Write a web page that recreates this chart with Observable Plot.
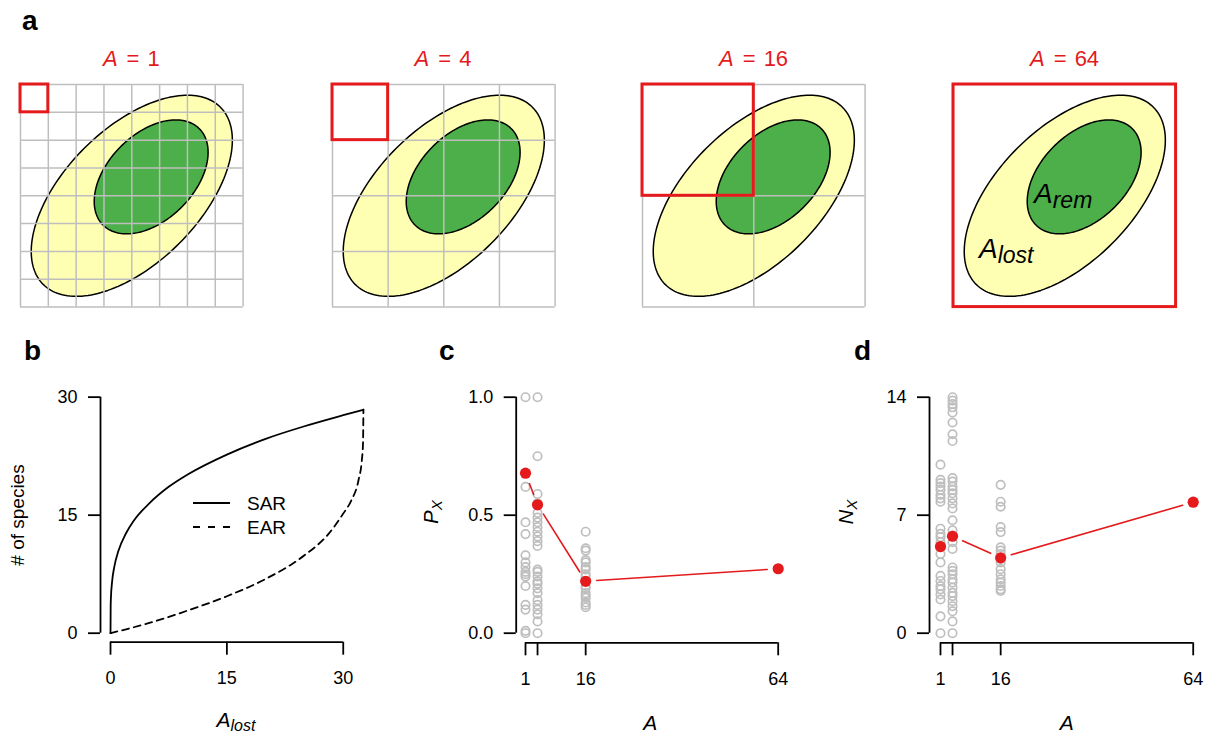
<!DOCTYPE html>
<html><head><meta charset="utf-8">
<script src="https://cdn.jsdelivr.net/npm/d3@7"></script>
<script src="https://cdn.jsdelivr.net/npm/@observablehq/plot@0.6"></script>
<style>
html,body{margin:0;padding:0;background:#fff;}
#page{position:relative;width:1211px;height:735px;overflow:hidden;background:#fff;font-family:"Liberation Sans",Arial,Helvetica,sans-serif;}
#page svg{position:absolute;overflow:visible;}
</style></head><body><div id="page"></div>
<script>
// ---------------- data ----------------
// panel a
const gridCells = [8, 4, 2, 1];          // cells per side of the grid
const sampleArea = [1, 4, 16, 64];       // A of the sampling square
const ellipseName = ["lost", "rem"];
const ellipseCx = [0.500, 0.587];
const ellipseCy = [0.500, 0.415];        // from the top of the square
const ellipseSemiMajor = [0.563, 0.306];
const ellipseSemiMinor = [0.302, 0.193];
const ellipseTilt = [45, 45];            // degrees
const ellipseFill = ["#ffffb3", "#4daf4a"];

// panel b
const sarArea = [0, 0.02, 0.05, 0.2, 0.5, 1, 2, 3, 5, 7.5, 10, 15, 20, 25, 30, 32.6];
const sarSpecies = [0, 3.4, 4.4, 6.5, 8.5, 10.4, 12.7, 14.3, 16.5, 18.6, 20.2, 22.7, 24.7, 26.3, 27.7, 28.4];
const earArea = [0, 2, 5, 10, 15, 20, 25, 28, 30, 31, 32, 32.4, 32.55, 32.6];
const earSpecies = [0, 0.5, 1.3, 2.9, 4.7, 6.9, 9.9, 12.5, 15.2, 16.8, 19.6, 22.0, 24.2, 28.4];
const bTicks = [0, 15, 30];

// panel c  (P_X)
const px1 = [1.0, 0.62, 0.47, 0.42, 0.33, 0.30, 0.28, 0.26, 0.25, 0.24, 0.20, 0.12, 0.10, 0.01, 0.0];
const px4 = [1.0, 0.75, 0.59, 0.55, 0.51, 0.49, 0.47, 0.45, 0.43, 0.41, 0.39, 0.37, 0.27, 0.26, 0.24, 0.22, 0.21, 0.19, 0.17, 0.14, 0.12, 0.10, 0.08, 0.05, 0.0];
const px16 = [0.43, 0.36, 0.35, 0.31, 0.30, 0.28, 0.27, 0.25, 0.24, 0.22, 0.20, 0.19, 0.17, 0.16, 0.15, 0.13, 0.12, 0.11];
const pxMean = [0.678, 0.544, 0.220, 0.273];
const pxTicks = [0, 0.5, 1];
const pxTickLabels = ["0.0", "0.5", "1.0"];

// panel d  (N_X)
const nx1 = [10, 9.1, 8.9, 8.7, 8.5, 8.2, 8.0, 7.8, 6.2, 5.9, 5.7, 5.4, 5.1, 4.7, 4.2, 3.4, 3.1, 2.8, 2.6, 2.3, 2.0, 1.0, 0];
const nx4 = [14, 13.8, 13.6, 13.4, 13.1, 12.5, 11.8, 11.4, 9.2, 9.0, 8.7, 8.5, 8.3, 8.0, 7.7, 7.4, 6.7, 6.1, 5.8, 5.4, 5.0, 3.9, 3.7, 3.5, 3.2, 3.0, 2.7, 2.4, 2.2, 1.9, 1.6, 1.3, 0.7, 0];
const nx16 = [8.8, 7.8, 7.5, 6.3, 6.0, 5.1, 4.9, 4.7, 4.4, 4.2, 3.8, 3.5, 3.2, 3.0, 2.8, 2.6, 2.5];
const nxMean = [5.14, 5.75, 4.47, 7.77];
const nxTicks = [0, 7, 14];
const nxTickLabels = ["0", "7", "14"];

const areaTicks = [1, 4, 16, 64];
const areaTickLabels = ["1", "", "16", "64"];

// ---------------- style ----------------
const RED = "#e41a1c", GRAY = "#bebebe", FONT = '"Liberation Sans", Arial, Helvetica, sans-serif';
const AX = 1.8, INSET = 11;
const page = document.getElementById("page");
const baseStyle = {fontFamily: FONT, fontSize: "18px", color: "#000", background: "transparent", overflow: "visible"};
function place(el, left, top) {
  el.style.position = "absolute"; el.style.left = left + "px"; el.style.top = top + "px";
  page.appendChild(el);
}

// ---------------- panel a ----------------
const aLeft = [20, 331.7, 642.3, 953.3], aTop = 84.3, aSide = 222.6;
function ellipsePoints(k) {
  const th = ellipseTilt[k] * Math.PI / 180;
  return d3.range(0, 360, 2).map(deg => {
    const t = deg * Math.PI / 180;
    const u = ellipseSemiMajor[k] * Math.cos(t), v = ellipseSemiMinor[k] * Math.sin(t);
    return {x: ellipseCx[k] + u * Math.cos(th) - v * Math.sin(th),
            y: ellipseCy[k] - (u * Math.sin(th) + v * Math.cos(th))};
  });
}
gridCells.forEach((n, i) => {
  const lines = d3.range(n + 1).map(k => k / n);
  const sq = [{x1: 0, x2: 1 / n, y1: 0, y2: 1 / n}];
  const p = Plot.plot({
    width: aSide, height: aSide, margin: 0, style: baseStyle,
    x: {domain: [0, 1], axis: null}, y: {domain: [0, 1], reverse: true, axis: null},
    marks: [
      ...ellipseName.map((nm, k) => Plot.line(ellipsePoints(k), {x: "x", y: "y", curve: "linear-closed", fill: ellipseFill[k], stroke: "#000", strokeWidth: 1.5})),
      Plot.ruleX(lines, {stroke: GRAY, strokeWidth: 1.5}),
      Plot.ruleY(lines, {stroke: GRAY, strokeWidth: 1.5}),
      Plot.rect(sq, {x1: "x1", x2: "x2", y1: "y1", y2: "y2", fill: "none", stroke: RED, strokeWidth: 3})
    ]
  });
  place(p, aLeft[i], aTop);
});

// ---------------- panel b ----------------
{
  const xLim = [-1.29, 33.9], yLim = [-1.144, 31.2];
  const left = 40, top = 360, W = 360, H = 330;
  const sar = sarArea.map((a, i) => ({a, s: sarSpecies[i]}));
  const ear = earArea.map((a, i) => ({a, s: earSpecies[i]}));
  const p = Plot.plot({
    width: W, height: H, style: baseStyle,
    marginLeft: 100 - left, marginRight: left + W - 373, marginTop: 387.2 - top, marginBottom: top + H - 641.7,
    x: {domain: xLim}, y: {domain: yLim},
    marks: [
      Plot.ruleX([xLim[0]], {y1: bTicks[0], y2: bTicks[bTicks.length - 1], strokeWidth: AX}),
      Plot.ruleY([yLim[0]], {x1: bTicks[0], x2: bTicks[bTicks.length - 1], strokeWidth: AX}),
      Plot.axisY({ticks: bTicks, tickSize: 12, tickPadding: 11, strokeWidth: AX, label: null}),
      Plot.axisX({ticks: bTicks, tickSize: 13, tickPadding: 16, strokeWidth: AX, label: null}),
      Plot.line(sar, {x: "a", y: "s", curve: "monotone-x", stroke: "#000", strokeWidth: 1.8}),
      Plot.line(ear, {x: "a", y: "s", curve: "monotone-x", stroke: "#000", strokeWidth: 1.8, strokeDasharray: "7,5"})
    ]
  });
  place(p, left, top);
}

// ---------------- panels c & d ----------------
function scatterPanel(cols, means, ticks, tickLabels, xLim, yLim, geom) {
  const {left, top, W, H, x0, x1, y0, y1} = geom;
  const kx = (x1 - x0) / (xLim[1] - xLim[0]), ky = (y1 - y0) / (yLim[1] - yLim[0]);
  const gray = cols.flatMap((vals, i) => vals.map(v => ({A: sampleArea[i], v})));
  const pts = means.map((v, i) => ({A: sampleArea[i], v}));
  // like R type="b": segments shorter than the two gaps are not drawn
  const segs = d3.pairs(pts).map(([a, b]) => ({xa: a.A, ya: a.v, xb: b.A, yb: b.v}))
    .filter(s => Math.hypot((s.xb - s.xa) * kx, (s.yb - s.ya) * ky) > 2 * INSET);
  const yMap = new Map(ticks.map((t, i) => [t, tickLabels[i]]));
  const xMap = new Map(areaTicks.map((t, i) => [t, areaTickLabels[i]]));
  const p = Plot.plot({
    width: W, height: H, style: baseStyle,
    marginLeft: x0 - left, marginRight: left + W - x1, marginTop: y0 - top, marginBottom: top + H - y1,
    x: {domain: xLim}, y: {domain: yLim},
    marks: [
      Plot.ruleX([xLim[0]], {y1: ticks[0], y2: ticks[ticks.length - 1], strokeWidth: AX}),
      Plot.ruleY([yLim[0]], {x1: areaTicks[0], x2: areaTicks[areaTicks.length - 1], strokeWidth: AX}),
      Plot.axisY({ticks, tickFormat: d => yMap.get(d), tickSize: 12, tickPadding: 11, strokeWidth: AX, label: null}),
      Plot.axisX({ticks: areaTicks, tickFormat: d => xMap.get(d), tickSize: 13, tickPadding: 16, strokeWidth: AX, label: null}),
      Plot.dot(gray, {x: "A", y: "v", r: 4.2, stroke: GRAY, strokeWidth: 1.7, fill: "none"}),
      Plot.arrow(segs, {x1: "xa", y1: "ya", x2: "xb", y2: "yb", stroke: RED, strokeWidth: 1.6, headLength: 0, inset: INSET}),
      Plot.dot(pts, {x: "A", y: "v", r: 5.6, fill: RED, stroke: "none"})
    ]
  });
  place(p, left, top);
}
scatterPanel([px1, px4, px16], pxMean, pxTicks, pxTickLabels, [-1.32, 66.32], [-0.0407, 1.0407],
  {left: 460, top: 360, W: 350, H: 330, x0: 515.7, x1: 787, y0: 387.1, y1: 642.3});
scatterPanel([nx1, nx4, nx16], nxMean, nxTicks, nxTickLabels, [-1.74, 66.74], [-0.57, 14.57],
  {left: 870, top: 360, W: 341, H: 330, x0: 929, x1: 1203.7, y0: 387.1, y1: 642.3});

// ---------------- text overlay ----------------
const ov = d3.create("svg").attr("width", 1211).attr("height", 735)
  .style("left", "0px").style("top", "0px").style("pointer-events", "none")
  .attr("font-family", FONT);
page.appendChild(ov.node());

function label(x, y, parts, opt = {}) {
  const t = ov.append("text").attr("x", x).attr("y", y)
    .attr("text-anchor", opt.anchor || "start").attr("fill", opt.fill || "#000");
  if (opt.transform) t.attr("transform", opt.transform).attr("x", 0).attr("y", 0);
  parts.forEach(pt => {
    const s = t.append("tspan").text(pt.t).attr("font-size", pt.size);
    if (pt.italic) s.attr("font-style", "italic");
    if (pt.bold) s.attr("font-weight", "bold");
    if (pt.dx) s.attr("dx", pt.dx);
    if (pt.dy) s.attr("dy", pt.dy);
  });
  return t;
}
// panel letters
label(22, 30, [{t: "a", size: 28, bold: true}]);
label(24, 360, [{t: "b", size: 28, bold: true}]);
label(439, 360, [{t: "c", size: 28, bold: true}]);
label(854, 360, [{t: "d", size: 28, bold: true}]);
// panel a titles
sampleArea.forEach((A, i) => {
  label(aLeft[i] + aSide / 2, 66, [
    {t: "A", size: 22, italic: true}, {t: "=", size: 22, dx: 9}, {t: String(A), size: 22, dx: 8}
  ], {anchor: "middle", fill: RED});
});
// ellipse labels
label(1034, 203, [{t: "A", size: 28, italic: true}, {t: "rem", size: 23, italic: true, dy: 5}]);
label(979, 258, [{t: "A", size: 28, italic: true}, {t: "lost", size: 23, italic: true, dy: 5}]);
// panel b legend
ov.append("line").attr("x1", 193).attr("x2", 230).attr("y1", 503).attr("y2", 503).attr("stroke", "#000").attr("stroke-width", 1.8);
ov.append("line").attr("x1", 193).attr("x2", 230).attr("y1", 527).attr("y2", 527).attr("stroke", "#000").attr("stroke-width", 1.8).attr("stroke-dasharray", "7,8");
label(247, 509.5, [{t: "SAR", size: 19}]);
label(247, 533.5, [{t: "EAR", size: 19}]);
// axis titles
label(0, 0, [{t: "# of species", size: 19}], {anchor: "middle", transform: "translate(23.5,515) rotate(-90)"});
label(236, 727, [{t: "A", size: 21, italic: true}, {t: "lost", size: 16, italic: true, dy: 4}], {anchor: "middle"});
label(650.3, 730, [{t: "A", size: 21, italic: true}], {anchor: "middle"});
label(1066.7, 730, [{t: "A", size: 21, italic: true}], {anchor: "middle"});
label(0, 0, [{t: "P", size: 20, italic: true}, {t: "X", size: 15, italic: true, dy: 4}], {anchor: "middle", transform: "translate(437.5,512) rotate(-90)"});
label(0, 0, [{t: "N", size: 20, italic: true}, {t: "X", size: 15, italic: true, dy: 4}], {anchor: "middle", transform: "translate(852.5,512) rotate(-90)"});
</script></body></html>
